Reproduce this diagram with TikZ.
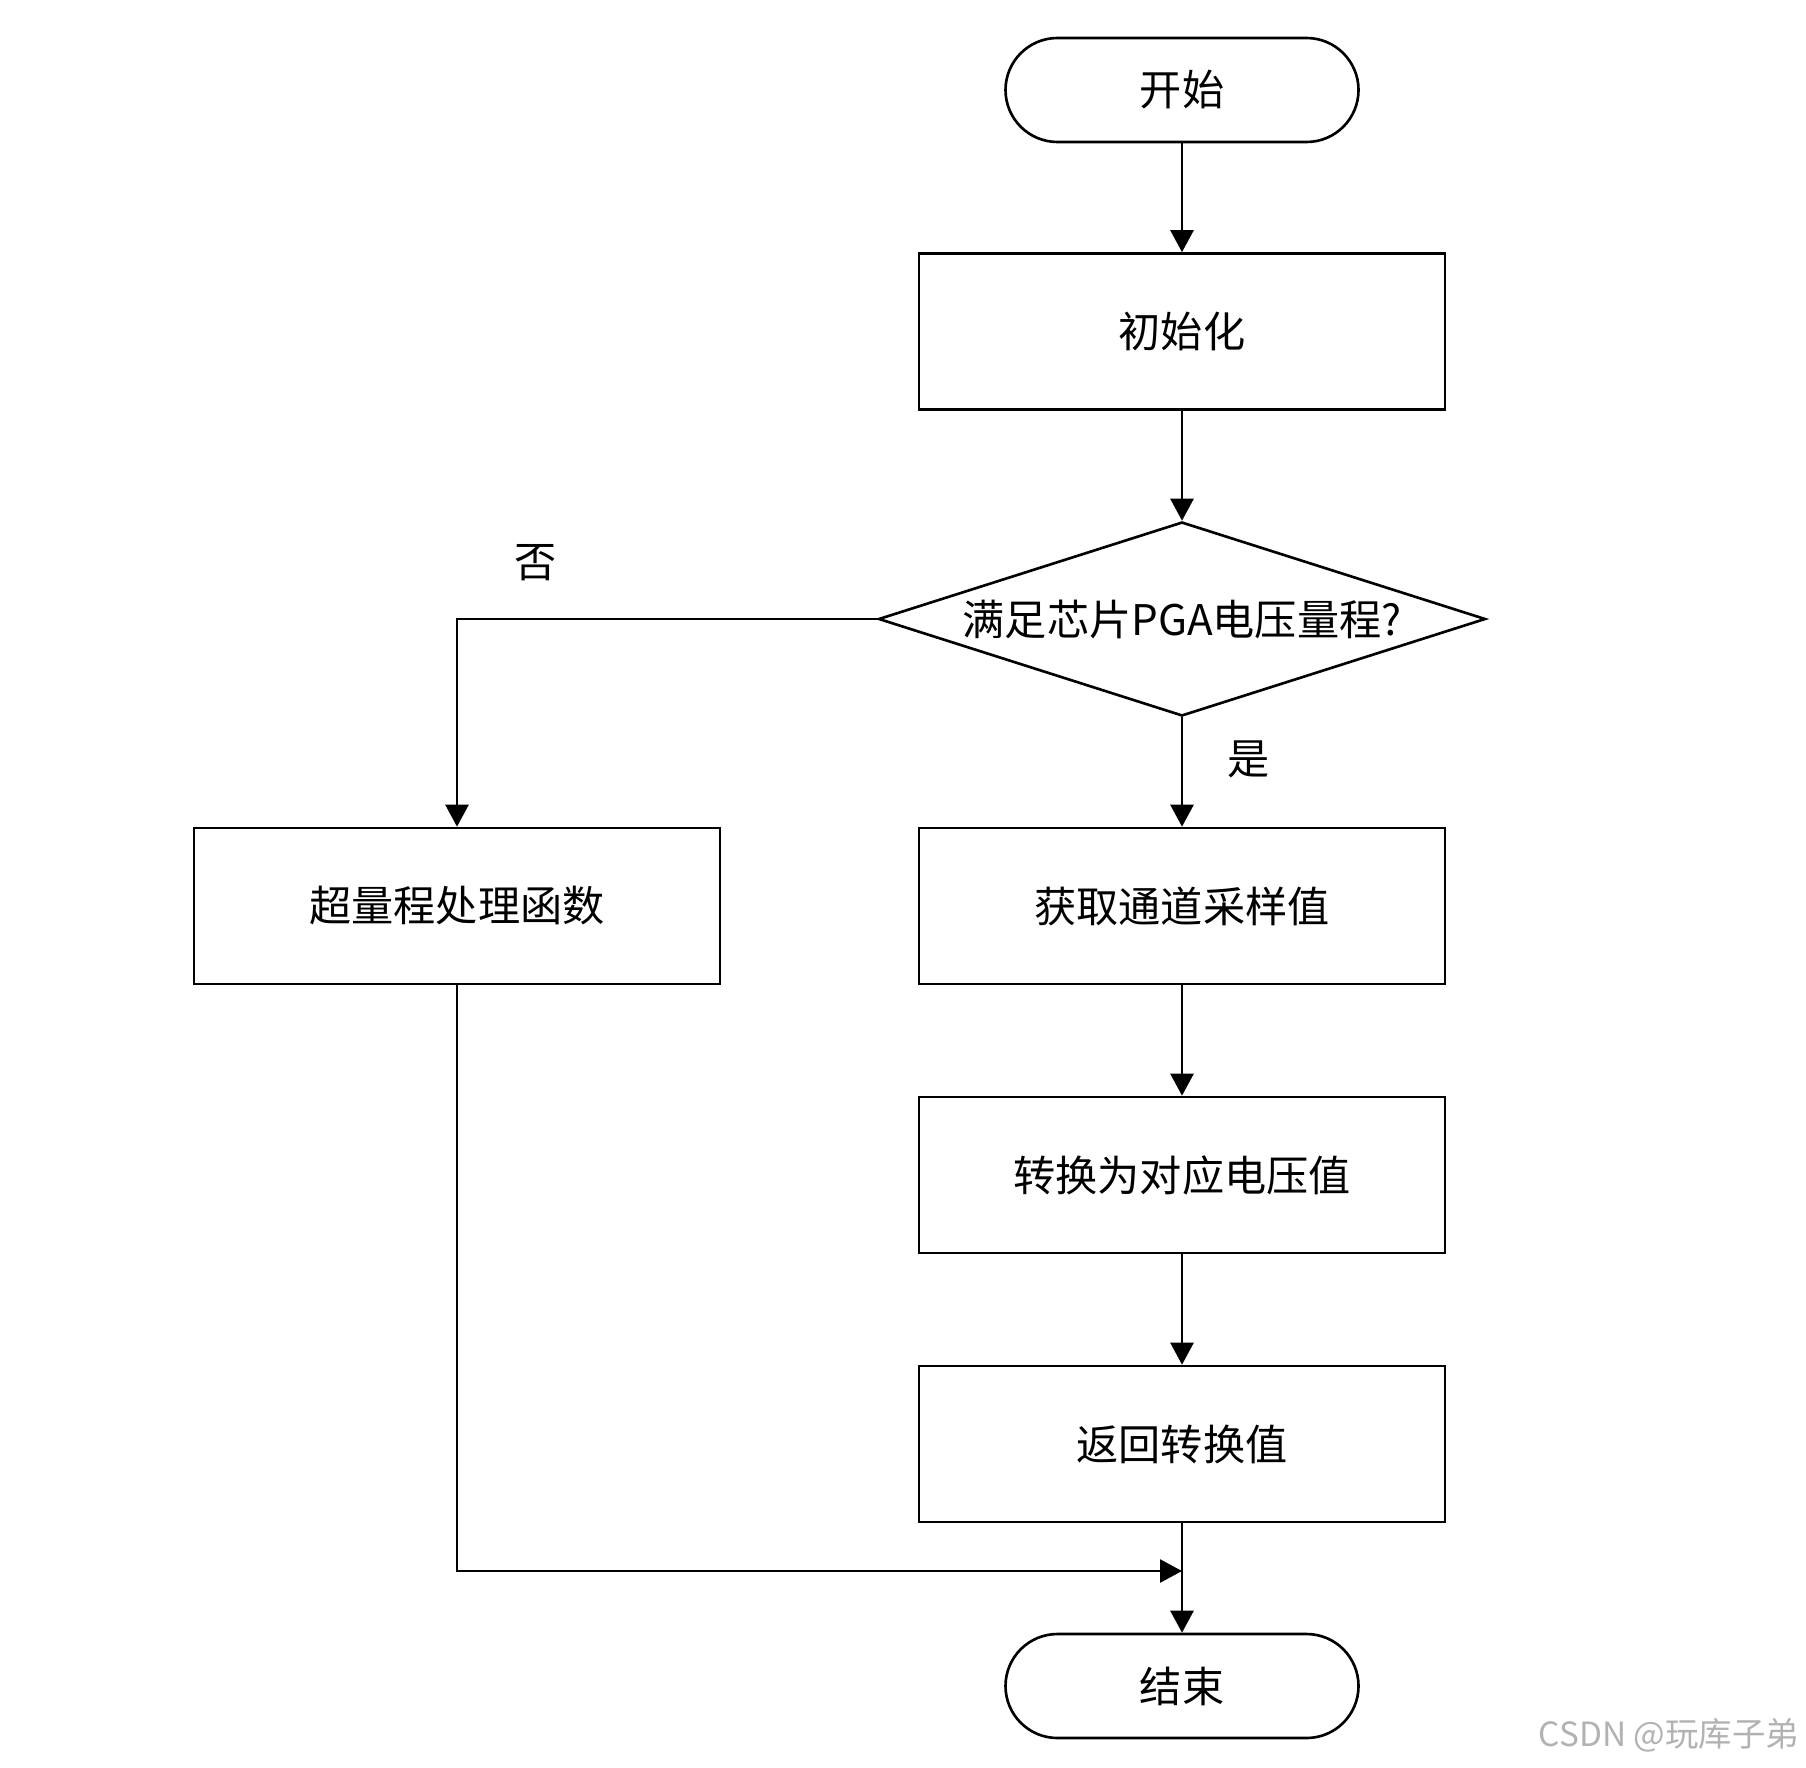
\documentclass[tikz,border=0pt]{standalone}
\usepackage{fontspec}
\setmainfont{Noto Sans CJK SC}
\usetikzlibrary{shapes.geometric,arrows.meta,positioning}

\begin{document}
\begin{tikzpicture}

    \tikzset{
      terminal/.style={
        draw,
        line width=1.5pt,
        rectangle,
        rounded corners=1.04cm,
        minimum width=7.06cm,
        minimum height=2.08cm,
        font=\fontsize{24}{28}\selectfont,
      },
      process/.style={
        draw,
        line width=1.5pt,
        rectangle,
        minimum width=10.52cm,
        minimum height=3.12cm,
        font=\fontsize{24}{28}\selectfont,
      },
      decision/.style={
        draw,
        line width=1.5pt,
        diamond,
        aspect=3.1,
        inner sep=0pt,
        minimum width=12.14cm,
        minimum height=3.88cm,
        font=\fontsize{24}{28}\selectfont,
      },
      flow/.style={
        line width=1.5pt,
        -{Triangle[length=0.44cm,width=0.46cm]},
      },
    }
    \useasboundingbox (0,0) rectangle (36.12,-35.34);
	\node[terminal] (start) at (23.64,-1.80) {开始};
	\node[process] (init) at (23.64,-6.63) {初始化};
	\node[decision] (check) at (23.64,-12.38) {满足芯片PGA电压量程?};
	\node[process] (over) at (9.14,-18.12) {超量程处理函数};
	\node[process] (sample) at (23.64,-18.12) {获取通道采样值};
	\node[process] (convert) at (23.64,-23.50) {转换为对应电压值};
	\node[process] (result) at (23.64,-28.88) {返回转换值};
	\node[terminal] (stop) at (23.64,-33.72) {结束};
	\coordinate (merge) at (23.64,-31.42);
	\node[font=\fontsize{24}{28}\selectfont] (no) at (10.72,-11.26) {否};
	\node[font=\fontsize{24}{28}\selectfont] (yes) at (24.98,-15.18) {是};
	\node[anchor=east,text=black!30,font=\fontsize{19}{22}\selectfont] (mark) at (36.10,-34.70) {CSDN @玩库子弟};

	\draw[flow] (start) -- (init);
	\draw[flow] (init) -- (check);
	\draw[flow] (check) -- (sample);
	\draw[flow] (check.west) -| (over.north);
	\draw[flow] (sample) -- (convert);
	\draw[flow] (convert) -- (result);
	\draw[flow] (result) -- (stop);
	\draw[flow] (over.south) |- (merge);

\end{tikzpicture}
\end{document}
